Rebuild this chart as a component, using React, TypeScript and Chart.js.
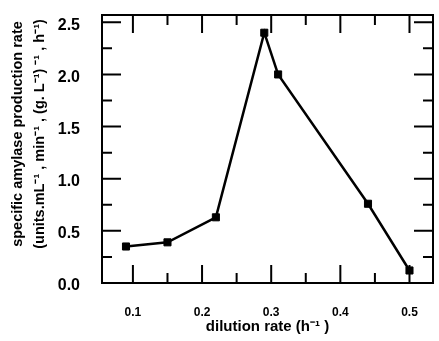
import React, { useEffect, useRef } from "react";
import { Chart, registerables } from "chart.js";

Chart.register(...registerables);

const dilutionRate = [0.09, 0.15, 0.22, 0.29, 0.31, 0.44, 0.5];
const productionRate = [0.35, 0.39, 0.63, 2.4, 2.0, 0.76, 0.12];
const xMajorTicks = [0.1, 0.2, 0.3, 0.4, 0.5];
const xMinorTicks = [0.15, 0.25, 0.35, 0.45];
const yMajorTicks = [0.0, 0.5, 1.0, 1.5, 2.0, 2.5];
const yMinorTicks = [0.25, 0.75, 1.25, 1.75, 2.25];
const xTitle = "dilution rate (h\u207B\u00B9 )";
const yTitleLines = [
  "specific amylase production rate",
  "(units.mL\u207B\u00B9 , min\u207B\u00B9 , (g. L\u207B\u00B9) \u207B\u00B9 , h\u207B\u00B9)",
];

const FONT = "'Liberation Sans', Arial, sans-serif";

const framePlugin = {
  id: "frame",
  afterDraw(chart: any) {
    const { ctx, chartArea: a, scales } = chart;
    const xs = scales.x;
    const ys = scales.y;
    ctx.save();
    ctx.strokeStyle = "#000";
    ctx.lineWidth = 2;
    ctx.strokeRect(a.left, a.top, a.right - a.left, a.bottom - a.top);
    ctx.beginPath();
    const tick = (vals: number[], len: number) => {
      vals.forEach((v) => {
        const px = xs.getPixelForValue(v);
        ctx.moveTo(px, a.bottom);
        ctx.lineTo(px, a.bottom - len);
        ctx.moveTo(px, a.top);
        ctx.lineTo(px, a.top + len);
      });
    };
    const ytick = (vals: number[], len: number) => {
      vals.forEach((v) => {
        const py = ys.getPixelForValue(v);
        ctx.moveTo(a.left, py);
        ctx.lineTo(a.left + len, py);
        ctx.moveTo(a.right, py);
        ctx.lineTo(a.right - len, py);
      });
    };
    tick(xMajorTicks, 18);
    tick(xMinorTicks, 10);
    ytick(yMajorTicks, 19);
    ytick(yMinorTicks, 10);
    ctx.stroke();

    ctx.fillStyle = "#000";
    ctx.font = `bold 14.5px ${FONT}`;
    ctx.textAlign = "center";
    ctx.textBaseline = "middle";
    const cy = 134;
    [18, 40].forEach((x, i) => {
      ctx.save();
      ctx.translate(x, cy);
      ctx.rotate(-Math.PI / 2);
      ctx.fillText(yTitleLines[i], 0, 0);
      ctx.restore();
    });
    ctx.restore();
  },
};

export default function App() {
  const ref = useRef<HTMLCanvasElement>(null);
  useEffect(() => {
    const chart = new Chart(ref.current!, {
      type: "line",
      data: {
        datasets: [
          {
            data: dilutionRate.map((x, i) => ({ x, y: productionRate[i] })),
            borderColor: "#000",
            backgroundColor: "#000",
            borderWidth: 2.5,
            pointStyle: "rect",
            pointRadius: 5,
            pointBorderWidth: 1,
            tension: 0,
          },
        ],
      },
      options: {
        responsive: false,
        animation: false,
        layout: { padding: { left: 56, right: 2, top: 15, bottom: 0 } },
        plugins: { legend: { display: false }, tooltip: { enabled: false } },
        scales: {
          x: {
            type: "linear",
            min: 0.0553,
            max: 0.534,
            afterBuildTicks: (s: any) => {
              s.ticks = xMajorTicks.map((value) => ({ value }));
            },
            afterFit: (s: any) => {
              s.height = 58;
              s.paddingLeft = 0;
              s.paddingRight = 0;
            },
            grid: { display: false, drawTicks: false },
            border: { display: false },
            ticks: {
              padding: 22,
              color: "#000",
              font: { family: FONT, size: 12, weight: "bold" },
              callback: (v: any) => Number(v).toFixed(1),
            },
            title: {
              display: true,
              text: xTitle,
              color: "#000",
              font: { family: FONT, size: 15, weight: "bold" },
              padding: { top: 2, bottom: 5 },
            },
          },
          y: {
            type: "linear",
            min: 0,
            max: 2.57,
            afterBuildTicks: (s: any) => {
              s.ticks = yMajorTicks.map((value) => ({ value }));
            },
            afterFit: (s: any) => {
              s.width = 46;
              s.paddingTop = 0;
              s.paddingBottom = 0;
            },
            grid: { display: false, drawTicks: false },
            border: { display: false },
            ticks: {
              padding: 22,
              labelOffset: 3,
              color: "#000",
              font: { family: FONT, size: 16, weight: "bold" },
              callback: (v: any) => Number(v).toFixed(1),
            },
          },
        },
      },
      plugins: [framePlugin],
    });
    return () => chart.destroy();
  }, []);
  return (
    <div style={{ position: "fixed", left: 0, top: 0, width: 439, height: 341, background: "#fff" }}>
      <canvas ref={ref} width={439} height={341} />
    </div>
  );
}
